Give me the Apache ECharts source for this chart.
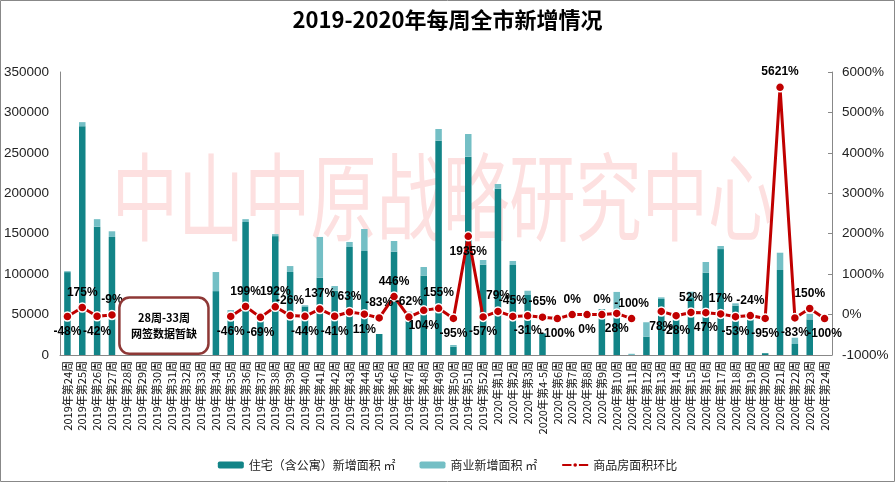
<!DOCTYPE html>
<html><head><meta charset="utf-8">
<script src="https://cdn.jsdelivr.net/npm/echarts@6/dist/echarts.min.js"></script>
<style>html,body{margin:0;padding:0;background:#fff}#c{width:895px;height:482px}</style>
</head><body><div id="c"></div>
<script>
const categories = [
 '2019年第24周','2019年第25周','2019年第26周','2019年第27周','2019年第28周','2019年第29周','2019年第30周','2019年第31周','2019年第32周','2019年第33周',
 '2019年第34周','2019年第35周','2019年第36周','2019年第37周','2019年第38周','2019年第39周','2019年第40周','2019年第41周','2019年第42周','2019年第43周',
 '2019年第44周','2019年第45周','2019年第46周','2019年第47周','2019年第48周','2019年第49周','2019年第50周','2019年第51周','2019年第52周',
 '2020年第1周','2020年第2周','2020年第3周','2020年第4-5周','2020年第6周','2020年第7周','2020年第8周','2020年第9周','2020年第10周',
 '2020年第11周','2020年第12周','2020年第13周','2020年第14周','2020年第15周','2020年第16周','2020年第17周','2020年第18周','2020年第19周',
 '2020年第20周','2020年第21周','2020年第22周','2020年第23周','2020年第24周'];
const residential = [102500,283000,158700,146000,null,null,null,null,null,null,
 79000,53500,164500,50000,147000,102700,60000,95600,79500,133600,
 128600,26000,127800,52000,98200,265000,10300,245300,111700,
 205700,111300,74200,26800,0,0,0,56600,52000,
 0,22700,69300,50000,71300,101800,131000,61000,47000,
 2200,105100,13600,44000,0];
const commercial = [1200,5000,9300,7000,null,null,null,null,null,null,
 23600,2100,3500,2000,2500,7300,1500,50400,5800,6200,
 27200,0,13200,1600,10600,14500,2100,28000,5800,
 5800,5000,5300,0,0,0,0,0,26000,
 1500,17800,2000,1500,7000,13200,3800,2900,1600,
 0,21400,7800,7000,0];
const ratio = [-48,175,-42,-9,null,null,null,null,null,null,
 null,-46,199,-69,192,-26,-44,137,-41,63,
 11,-83,446,-62,104,155,-95,1935,-57,
 79,-45,-31,-65,-100,0,0,0,28,
 -100,null,78,-28,52,47,17,-53,-24,
 -95,5621,-83,150,-100];
const leftTicks = {min:0, max:350000, interval:50000};
const rightTicks = {min:-1000, max:6000, interval:1000};
const labelPlacement = ['bottom','top','bottom','top',null,null,null,null,null,null,
 null,'bottom','top','bottom','top','top','bottom','top','bottom','top',
 'bottom','top','top','top','bottom','top','bottom','bottom','bottom',
 'top','top','bottom','top','bottom','top','bottom','top','bottom',
 'top',null,'bottom','bottom','top','bottom','top','bottom','top',
 'bottom','top','bottom','top','bottom'];

const chart = echarts.init(document.getElementById('c'));
const lineData = ratio.map((v,i)=> v===null ? null : {value:v, label:{position: labelPlacement[i] || 'top'}});
chart.setOption({
  animation:false,
  title:{text:'2019-2020年每周全市新增情况', left:'center', top:4,
    textStyle:{fontFamily:'"Noto Sans CJK SC"', fontSize:22, fontWeight:'bold', color:'#000'}},
  grid:{left:60, right:63, top:72, bottom:127},
  legend:{bottom:6, left:'center', itemWidth:26, itemHeight:7, itemGap:24,
    textStyle:{fontFamily:'"Noto Sans CJK SC"', fontSize:12, color:'#222'},
    data:['住宅（含公寓）新增面积 ㎡','商业新增面积 ㎡','商品房面积环比']},
  xAxis:{type:'category', data:categories,
    axisLine:{lineStyle:{color:'#888'}}, axisTick:{show:false},
    axisLabel:{interval:0, rotate:90, fontSize:11, color:'#111', margin:6, fontFamily:'"Noto Sans CJK SC"'}},
  yAxis:[
    {type:'value', min:leftTicks.min, max:leftTicks.max, interval:leftTicks.interval, splitLine:{show:false},
     axisLine:{show:true, lineStyle:{color:'#888'}}, axisTick:{show:false},
     axisLabel:{formatter:(v)=>String(v), fontSize:13.5, color:'#222', fontFamily:'"Liberation Sans"', margin:11}},
    {type:'value', min:rightTicks.min, max:rightTicks.max, interval:rightTicks.interval, splitLine:{show:false},
     axisLine:{show:true, lineStyle:{color:'#888'}}, axisTick:{show:true, inside:true, length:4, lineStyle:{color:'#888'}},
     axisLabel:{formatter:(v)=>String(v)+'%', fontSize:13.5, color:'#222', fontFamily:'"Liberation Sans"', margin:10}}
  ],
  series:[
    {name:'住宅（含公寓）新增面积 ㎡', type:'bar', stack:'a', data:residential, barWidth:6.5,
     itemStyle:{color:'#128487'}},
    {name:'商业新增面积 ㎡', type:'bar', stack:'a', data:commercial, barWidth:6.5,
     itemStyle:{color:'#74BFC5'}},
    {name:'商品房面积环比', type:'line', yAxisIndex:1, data:lineData, connectNulls:false,
     symbol:'circle', symbolSize:9, z:5,
     lineStyle:{color:'#C00000', width:3},
     itemStyle:{color:'#C00000', borderColor:'#fff', borderWidth:1.5},
     label:{show:true, formatter:(p)=>String(p.value)+'%', fontSize:12, fontWeight:'bold', color:'#000',
       fontFamily:'"Liberation Sans"', distance:4}}
  ]
});

const x4 = chart.convertToPixel({xAxisIndex:0}, categories[4]);
const x5 = chart.convertToPixel({xAxisIndex:0}, categories[5]);
const x9 = chart.convertToPixel({xAxisIndex:0}, categories[9]);
const bw = x5 - x4;
const yTop = chart.convertToPixel({yAxisIndex:0}, 71000);
const yBot = chart.convertToPixel({yAxisIndex:0}, 1500);
const bx = x4 - bw/2, bxw = (x9 + bw/2) - bx;
chart.setOption({
  graphic:[
    {type:'rect', z:-10, silent:true, shape:{x:0.5, y:0.5, width:894, height:481},
     style:{fill:'none', stroke:'#888', lineWidth:1}},
    {type:'text', z:-5, silent:true, x:443, y:197, scaleX:0.69,
     style:{text:'中山中原战略研究中心', font:'normal 96px "Noto Sans CJK SC"', fill:'#FDE0E0',
       textAlign:'center', textVerticalAlign:'middle'}},
    {type:'rect', z:10, shape:{x:bx, y:yTop, width:bxw, height:yBot-yTop, r:10},
     style:{fill:'#fff', stroke:'#8E3836', lineWidth:2.5}},
    {type:'text', z:11, x:bx+bxw/2, y:(yTop+yBot)/2,
     style:{text:'28周-33周\n网签数据暂缺', font:'bold 11px "Noto Sans CJK SC"', fill:'#000',
       textAlign:'center', textVerticalAlign:'middle', lineHeight:16}}
  ]
});
</script></body></html>
